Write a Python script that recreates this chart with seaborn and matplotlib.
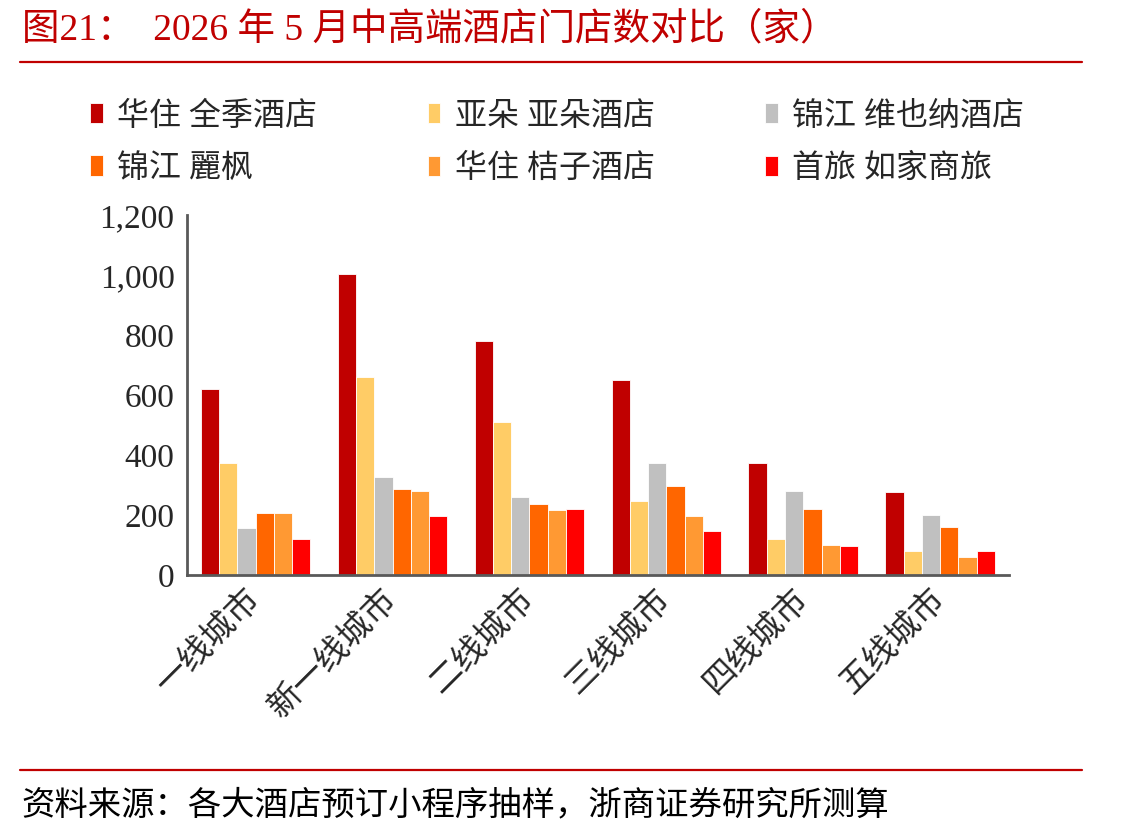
import numpy as np
import pandas as pd
import matplotlib
matplotlib.use("Agg")
import matplotlib.pyplot as plt
from matplotlib.lines import Line2D
from matplotlib.ticker import FuncFormatter, FixedLocator
import seaborn as sns

# 数据
cities = ["一线城市", "新一线城市", "二线城市", "三线城市", "四线城市", "五线城市"]
brands = ["华住 全季酒店", "亚朵 亚朵酒店", "锦江 维也纳酒店", "锦江 麗枫", "华住 桔子酒店", "首旅 如家商旅"]
quanji = [621, 1004, 782, 649, 374, 275]
yaduo = [374, 662, 509, 247, 120, 81]
weiyena = [155, 327, 260, 374, 281, 200]
lifeng = [208, 288, 235, 295, 221, 161]
juzi = [208, 281, 215, 195, 101, 61]
rujia = [120, 195, 221, 148, 95, 81]
colors = ["#C00000", "#FFCC66", "#C0C0C0", "#FF6600", "#FF9933", "#FF0000"]

series = [quanji, yaduo, weiyena, lifeng, juzi, rujia]
df = pd.DataFrame(
    [(c, b, v) for b, vals in zip(brands, series) for c, v in zip(cities, vals)],
    columns=["city", "brand", "count"],
)

sns.set_style("white")
plt.rcParams["font.family"] = ["Liberation Serif", "Noto Sans CJK SC", "DejaVu Sans"]
plt.rcParams["axes.unicode_minus"] = False

RED = "#C00000"
GRAY = "#595959"

fig = plt.figure(figsize=(11.41, 8.38), dpi=100)
ax = fig.add_axes([0.164, 0.314, 0.72, 0.429])

sns.barplot(data=df, x="city", y="count", hue="brand", order=cities, hue_order=brands,
            palette=colors, saturation=1, width=0.8, edgecolor="white", linewidth=0.6, ax=ax)

ax.set_xlim(-0.5, len(cities) - 0.5)
ax.set_ylim(0, 1200)
ax.yaxis.set_major_locator(FixedLocator(np.arange(0, 1201, 200)))
ax.yaxis.set_major_formatter(FuncFormatter(lambda v, _: f"{v:,.0f}"))
ax.set_xlabel("")
ax.set_ylabel("")

# 分类边界刻度
ax.xaxis.set_minor_locator(FixedLocator(np.arange(-0.5, len(cities), 1.0)))
ax.tick_params(axis="x", which="major", length=0, pad=14, labelsize=24)
ax.tick_params(axis="x", which="minor", length=8, width=2, color=GRAY, direction="out")
ax.tick_params(axis="y", length=8, width=2, color=GRAY, direction="out", labelsize=24, pad=1)
for lab in ax.get_xticklabels():
    lab.set_rotation(45)
    lab.set_ha("right")
    lab.set_va("center")
    lab.set_rotation_mode("anchor")

for s in ["top", "right"]:
    ax.spines[s].set_visible(False)
for s in ["left", "bottom"]:
    ax.spines[s].set_color(GRAY)
    ax.spines[s].set_linewidth(2)

# 图例（按行排列）
handles, labels = ax.get_legend_handles_labels()
ax.get_legend().remove()
order = [0, 3, 1, 4, 2, 5]
fig.legend([handles[i] for i in order], [labels[i] for i in order],
           loc="upper left", bbox_to_anchor=(0.079, 0.879), ncol=3,
           frameon=False, fontsize=23, handlelength=0.4, handleheight=0.6,
           handletextpad=0.45, columnspacing=3.45, labelspacing=0.7,
           borderpad=0, borderaxespad=0)

# 标题、分隔线与来源
fig.text(0.019, 0.965, "图21：  2026 年 5 月中高端酒店门店数对比（家）", color=RED,
         fontsize=27, ha="left", va="center")
fig.add_artist(Line2D([0.0175, 0.948], [0.926, 0.926], color=RED, lw=1.6))
fig.add_artist(Line2D([0.0175, 0.948], [0.081, 0.081], color=RED, lw=1.6))
fig.text(0.019, 0.039, "资料来源：各大酒店预订小程序抽样，浙商证券研究所测算", color="black",
         fontsize=24, ha="left", va="center")

fig.savefig("out.png", dpi=100)
